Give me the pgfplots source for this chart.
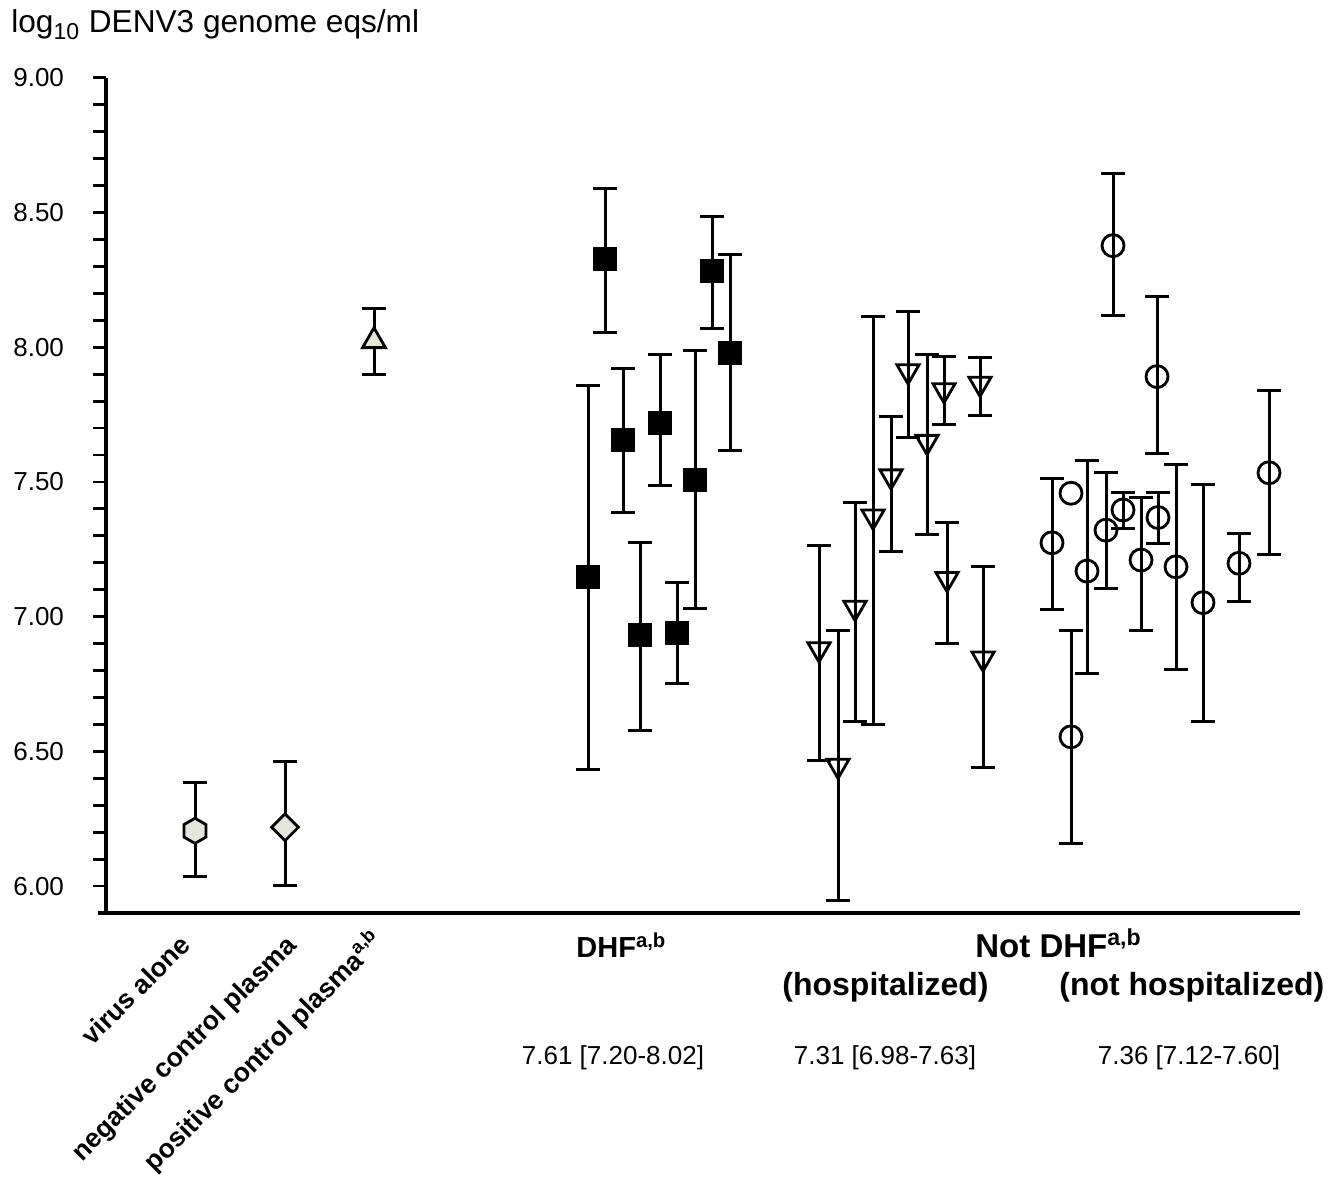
\documentclass[border=0pt]{standalone}
\usepackage{fontspec}
\setmainfont{Liberation Sans}
\usepackage{pgfplots}
\pgfplotsset{compat=1.18}
\usepackage{pgfplotstable}
\definecolor{ctrl}{RGB}{228,229,220}

\pgfdeclareplotmark{hexa}{%
 \pgfpathmoveto{\pgfpointpolar{90}{\pgfplotmarksize}}%
 \pgfpathlineto{\pgfpointpolar{30}{\pgfplotmarksize}}%
 \pgfpathlineto{\pgfpointpolar{-30}{\pgfplotmarksize}}%
 \pgfpathlineto{\pgfpointpolar{-90}{\pgfplotmarksize}}%
 \pgfpathlineto{\pgfpointpolar{-150}{\pgfplotmarksize}}%
 \pgfpathlineto{\pgfpointpolar{150}{\pgfplotmarksize}}%
 \pgfpathclose\pgfusepathqfillstroke}
\pgfdeclareplotmark{dia}{%
 \pgfpathmoveto{\pgfqpoint{0pt}{\pgfplotmarksize}}%
 \pgfpathlineto{\pgfqpoint{\pgfplotmarksize}{0pt}}%
 \pgfpathlineto{\pgfqpoint{0pt}{-\pgfplotmarksize}}%
 \pgfpathlineto{\pgfqpoint{-\pgfplotmarksize}{0pt}}%
 \pgfpathclose\pgfusepathqfillstroke}

\pgfplotstableread{
x y hi lo
195 6.205 6.384 6.036
}\virus
\pgfplotstableread{
x y hi lo
285 6.218 6.464 6.001
}\negc
\pgfplotstableread{
x y hi lo
374 8.023 8.144 7.897
}\posc
\pgfplotstableread{
x y hi lo
588 7.147 7.857 6.432
605 8.329 8.590 8.053
623 7.657 7.921 7.387
640 6.930 7.277 6.576
660 7.718 7.972 7.487
677 6.938 7.125 6.750
695 7.509 7.988 7.030
712 8.282 8.487 8.070
730 7.980 8.344 7.618
}\dhf
\pgfplotstableread{
x y hi lo
819 6.879 7.264 6.466
838 6.447 6.948 5.947
855 7.033 7.422 6.609
873 7.372 8.114 6.598
891 7.521 7.744 7.241
908 7.911 8.134 7.664
927 7.649 7.972 7.305
944 7.841 7.964 7.713
947 7.140 7.349 6.899
980 7.865 7.960 7.746
983 6.845 7.186 6.440
}\hosp
\pgfplotstableread{
x y hi lo
1052 7.274 7.511 7.025
1071 6.554 6.950 6.158
1087 7.169 7.579 6.790
1106 7.321 7.536 7.105
1113 8.377 8.643 8.117
1123 7.396 7.461 7.328
1141 7.210 7.443 6.950
1157 7.891 8.188 7.604
1158 7.368 7.460 7.272
1176 7.185 7.566 6.804
1203 7.052 7.491 6.610
1239 7.198 7.307 7.055
1269 7.534 7.841 7.229
}\nothosp
\pgfplotstableread{
x y
1071 7.458
}\nobar

\pgfplotsset{
 ebar/.style={error bars/.cd, y dir=both, y explicit,
   error bar style={line width=1.5pt, black},
   error mark options={rotate=90, mark size=5.8pt, line width=1.5pt, black}},
}

\begin{document}
\begin{tikzpicture}
\begin{axis}[
 scale only axis, width=597pt, height=417.6pt,
 xmin=106, xmax=1300, ymin=5.9, ymax=9,
 axis x line=bottom, axis y line=left,
 axis line style={-, line width=1.6pt, black},
 x axis line style={shorten <=-4pt},
 xtick=\empty,
 ytick={6,6.5,7,7.5,8,8.5,9},
 minor y tick num=4,
 tick align=outside,
 major tick length=6.5pt, minor tick length=6.5pt,
 every tick/.style={black, line width=1.4pt},
 yticklabel style={font=\fontsize{13}{15}\selectfont, xshift=-11pt, /pgf/number format/.cd, fixed, fixed zerofill, precision=2, assume math mode=true},
 clip=false,
]
\addplot[only marks, mark=hexa, mark size=6.3pt, line width=1.4pt, black, mark options={fill=ctrl}, ebar] table[x=x, y=y, y error plus expr=\thisrow{hi}-\thisrow{y}, y error minus expr=\thisrow{y}-\thisrow{lo}] {\virus};
\addplot[only marks, mark=dia, mark size=6.7pt, line width=1.4pt, black, mark options={fill=ctrl}, ebar] table[x=x, y=y, y error plus expr=\thisrow{hi}-\thisrow{y}, y error minus expr=\thisrow{y}-\thisrow{lo}] {\negc};
\addplot[only marks, mark=triangle*, mark size=6.6pt, line width=1.4pt, black, mark options={fill=ctrl}, ebar] table[x=x, y=y, y error plus expr=\thisrow{hi}-\thisrow{y}, y error minus expr=\thisrow{y}-\thisrow{lo}] {\posc};
\addplot[only marks, mark=square*, mark size=5.5pt, line width=1pt, black, mark options={fill=black}, ebar] table[x=x, y=y, y error plus expr=\thisrow{hi}-\thisrow{y}, y error minus expr=\thisrow{y}-\thisrow{lo}] {\dhf};
\addplot[only marks, mark=triangle, mark size=6.4pt, line width=1.4pt, black, mark options={rotate=180}, ebar] table[x=x, y=y, y error plus expr=\thisrow{hi}-\thisrow{y}, y error minus expr=\thisrow{y}-\thisrow{lo}] {\hosp};
\addplot[only marks, mark=o, mark size=5.5pt, line width=1.4pt, black, ebar] table[x=x, y=y, y error plus expr=\thisrow{hi}-\thisrow{y}, y error minus expr=\thisrow{y}-\thisrow{lo}] {\nothosp};
\addplot[only marks, mark=o, mark size=5.5pt, line width=1.4pt, black] table[x=x, y=y] {\nobar};

\node[anchor=base west, inner sep=0pt, font=\fontsize{15.8}{19}\selectfont] at (axis cs:11,9.1663) {log\textsubscript{\fontsize{11.5}{13}\selectfont 10} DENV3 genome eqs/ml};

\node[anchor=base west, inner sep=0pt, font=\bfseries\fontsize{14.5}{17}\selectfont] at (axis cs:576,5.7337) {DHF\textsuperscript{a,b}};
\node[anchor=base west, inner sep=0pt, font=\bfseries\fontsize{16.5}{19}\selectfont] at (axis cs:975,5.7337) {Not DHF\textsuperscript{a,b}};
\node[anchor=base west, inner sep=0pt, font=\bfseries\fontsize{16}{19}\selectfont] at (axis cs:782,5.5954) {(hospitalized)};
\node[anchor=base west, inner sep=0pt, font=\bfseries\fontsize{16}{19}\selectfont] at (axis cs:1059,5.5954) {(not hospitalized)};

\node[anchor=base, inner sep=0pt, font=\fontsize{13}{16}\selectfont] at (axis cs:613,5.3393) {7.61 [7.20-8.02]};
\node[anchor=base, inner sep=0pt, font=\fontsize{13}{16}\selectfont] at (axis cs:885,5.3393) {7.31 [6.98-7.63]};
\node[anchor=base, inner sep=0pt, font=\fontsize{13}{16}\selectfont] at (axis cs:1189,5.3393) {7.36 [7.12-7.60]};

\node[anchor=base east, rotate=45, inner sep=0pt, font=\bfseries\fontsize{13.3}{15}\selectfont] at (axis cs:192,5.775) {virus alone};
\node[anchor=base east, rotate=45, inner sep=0pt, font=\bfseries\fontsize{13.3}{15}\selectfont] at (axis cs:298,5.775) {negative control plasma};
\node[anchor=base east, rotate=45, inner sep=0pt, font=\bfseries\fontsize{13.3}{15}\selectfont] at (axis cs:385,5.790) {positive control plasma\textsuperscript{a,b}};

\coordinate (bl) at (axis cs:0,4.8938);
\coordinate (tr) at (axis cs:1336,9.2888);
\end{axis}
\pgfresetboundingbox
\useasboundingbox (bl) rectangle (tr);
\end{tikzpicture}
\end{document}
